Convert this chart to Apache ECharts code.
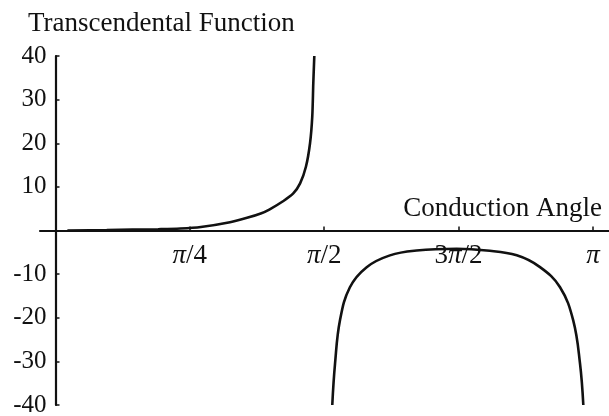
<!DOCTYPE html>
<html><head><meta charset="utf-8">
<script src="https://cdn.jsdelivr.net/npm/echarts@6/dist/echarts.min.js"></script>
<style>html,body{margin:0;padding:0;background:#fff}#c{width:609px;height:416px}</style>
</head><body><div id="c"></div>
<script>
const PI = Math.PI;
// x tick positions (radians) and their labels as printed in the reference
const xTickValues = [PI / 4, PI / 2, 3 * PI / 4, PI];
const xTickLabels = ['{n|}{i|π}{n|/4}', '{n|}{i|π}{n|/2}', '{n|3}{i|π}{n|/2}', '{n|}{i|π}{n|}'];
// branch 1 (0 .. just below pi/2)
const leftX = [0.07, 0.30, 0.45, 0.60, 0.73, 0.85, 1.02, 1.12, 1.20, 1.25, 1.33, 1.39, 1.43, 1.464, 1.488, 1.501, 1.507, 1.513];
const leftY = [0, 0.1, 0.2, 0.3, 0.45, 0.8, 1.9, 2.9, 3.9, 4.8, 6.7, 8.5, 10.8, 14.6, 20.0, 26.1, 33.7, 40];
// branch 2 (just above pi/2 .. just below pi)
const rightX = [1.618, 1.634, 1.663, 1.721, 1.819, 1.955, 2.111, 2.345, 2.520, 2.696, 2.832, 2.949, 3.026, 3.066, 3.085];
const rightY = [-40, -30.6, -20.6, -13.0, -8.4, -5.7, -4.6, -4.2, -4.6, -5.7, -8.4, -13.0, -20.6, -30.6, -40];

const FONT = '"Liberation Serif","DejaVu Serif",serif';
const ink = '#111111';
const chart = echarts.init(document.getElementById('c'), null, {renderer: 'canvas'});
chart.setOption({
  backgroundColor: '#fff',
  animation: false,
  title: [
    {text: 'Transcendental Function', left: 28, top: 10, padding: 0,
     textStyle: {fontFamily: FONT, fontSize: 27, fontWeight: 'normal', color: ink}},
    {text: 'Conduction Angle', right: 7, top: 195, padding: 0,
     textStyle: {fontFamily: FONT, fontSize: 27, fontWeight: 'normal', color: ink}}
  ],
  grid: {left: 40, right: 0, top: 56, bottom: 11, containLabel: false, outerBoundsMode: 'none'},
  xAxis: {
    type: 'value', min: -0.09, max: PI + 0.0935,
    position: 'bottom', offset: -174.5,
    axisLine: {onZero: false, lineStyle: {color: ink, width: 2.2}},
    axisTick: {inside: true, length: 4, customValues: xTickValues, lineStyle: {color: ink, width: 1.5}},
    axisLabel: {
      customValues: xTickValues, margin: 12,
      formatter: function (v) {
        let best = 0;
        for (let i = 1; i < xTickValues.length; i++) if (Math.abs(xTickValues[i] - v) < Math.abs(xTickValues[best] - v)) best = i;
        return xTickLabels[best];
      },
      rich: {
        i: {fontFamily: FONT, fontStyle: 'italic', fontSize: 27, color: ink},
        n: {fontFamily: FONT, fontSize: 27, color: ink}
      }
    },
    splitLine: {show: false}
  },
  yAxis: {
    type: 'value', min: -40, max: 40, interval: 10,
    position: 'left', offset: -15.5,
    axisLine: {onZero: false, lineStyle: {color: ink, width: 2.2}},
    axisTick: {inside: true, length: 4, lineStyle: {color: ink, width: 1.5}},
    axisLabel: {
      margin: 9, fontFamily: FONT, fontSize: 25, color: ink,
      formatter: function (v) { return v === 0 ? '' : String(v); }
    },
    splitLine: {show: false}
  },
  series: [
    {type: 'line', data: leftX.map((x, i) => [x, leftY[i]]), smooth: 0.3, showSymbol: false,
     lineStyle: {color: ink, width: 2.6}},
    {type: 'line', data: rightX.map((x, i) => [x, rightY[i]]), smooth: 0.4, showSymbol: false,
     lineStyle: {color: ink, width: 2.6}}
  ]
});
</script></body></html>
